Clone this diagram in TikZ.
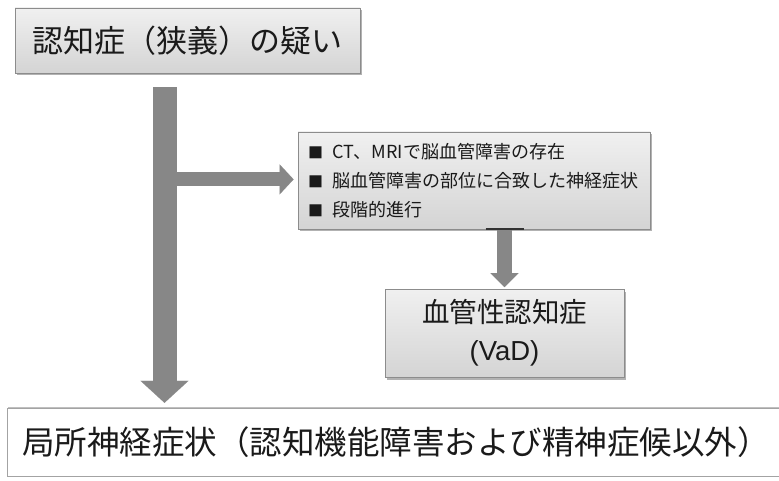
\documentclass[tikz,border=0pt]{standalone}
\usepackage{fontspec}
\setmainfont{Noto Sans CJK JP}
\newfontfamily\latinfont{Liberation Sans}
\usetikzlibrary{arrows.meta,shadows,calc}
\definecolor{boxline}{HTML}{8C8C8C}
\definecolor{boxtop}{HTML}{F0F0F0}
\definecolor{boxbot}{HTML}{D4D4D4}
\definecolor{arrowgray}{HTML}{878787}
\definecolor{txt}{HTML}{1A1A1A}
\newcommand{\sqbullet}{{\fontsize{15}{15}\selectfont ■}\hspace{9pt}}
\begin{document}
\begin{tikzpicture}[x=1pt,y=-1pt,
  gbox/.style={draw=boxline, line width=0.8pt, top color=boxtop, bottom color=boxbot,
    drop shadow={shadow xshift=2pt, shadow yshift=-2.5pt, opacity=0.3, fill=black},
    inner sep=0pt, text=txt},
  wbox/.style={fill=white,
    drop shadow={shadow xshift=0pt, shadow yshift=2pt, opacity=0.25, fill=black},
    inner sep=0pt},
  blockarrow/.style={draw=arrowgray, line cap=butt}
]
\useasboundingbox (0,0) rectangle (779,481);

% boxes
\node[gbox, minimum width=345pt, minimum height=65pt,
  font=\fontsize{31}{31}\selectfont] (top) at (187.5,40.5) {認知症（狭義）の疑い};

\node[gbox, minimum width=352pt, minimum height=97pt, inner xsep=10pt,
  text width=332pt, align=left,
  font=\fontsize{18}{29}\selectfont] (mid) at (474,180.5)
  {\sqbullet CT、MRIで脳血管障害の存在\\
   \sqbullet 脳血管障害の部位に合致した神経症状\\
   \sqbullet 段階的進行};

\node[gbox, minimum width=239pt, minimum height=88pt, align=center,
  font=\fontsize{27.5}{38}\selectfont] (vad) at (504.5,333)
  {血管性認知症\\{\latinfont (VaD)}};

\node[wbox, minimum width=771pt, minimum height=67pt] (bottombox) at (393.5,442.5) {};
\draw[draw=boxline!80, line width=1.2pt]
  ($(bottombox.north east)+(2,0)$) -- (bottombox.north west) -- (bottombox.south west)
  -- ($(bottombox.south east)+(2,0)$);
\node[anchor=west, inner sep=0pt, text=txt, font=\fontsize{32.5}{33}\selectfont]
  (bottom) at ($(bottombox.west)+(14,0)$)
  {局所神経症状（認知機能障害および精神症候以外）};

% arrows
\coordinate (m0) at ($(top.south)+(-23,14)$);
\coordinate (m1) at ($(bottombox.north)+(-229,-6)$);
\coordinate (mtip) at (m0 |- m1);
\draw[blockarrow, line width=24pt,
  -{Triangle[width=48pt, length=22pt, line width=0.1pt]}] (m0) -- (mtip);

\coordinate (h0) at ($(m0)+(11.5,92)$);
\coordinate (h1) at ($(mid.west)+(-4,0)$);
\draw[blockarrow, line width=14pt,
  -{Triangle[width=30pt, length=14pt, line width=0.1pt]}] (h0) -- (h1 |- h0);

\coordinate (v0) at ($(mid.south)+(30.5,0)$);
\coordinate (v1) at ($(vad.north)+(0,-1.5)$);
\draw[blockarrow, line width=15pt,
  -{Triangle[width=28pt, length=14pt, line width=0.1pt]}] (v0) -- (v0 |- v1);
\draw[line width=2pt, draw=black!80] ($(v0)+(-19,0)$) -- ($(v0)+(19,0)$);
\end{tikzpicture}
\end{document}
